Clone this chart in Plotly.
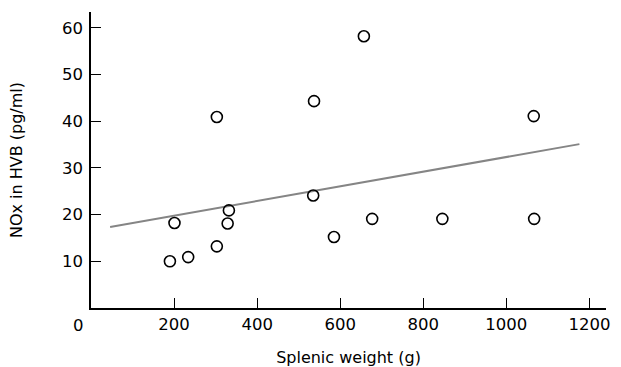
import plotly.graph_objects as go

# Data
splenic_weight = [190, 201, 234, 303, 329, 332, 535, 303, 537, 657, 1066, 585, 677, 846, 1067]
nox_hvb = [10.0, 18.2, 10.9, 13.2, 18.1, 20.9, 24.1, 40.9, 44.3, 58.2, 41.1, 15.2, 19.1, 19.1, 19.1]

# Regression line end points
fit_x = [46, 1176]
fit_y = [17.35, 35.1]

x_ticks = [200, 400, 600, 800, 1000, 1200]
y_ticks = [10, 20, 30, 40, 50, 60]

FONT = "DejaVu Sans"

fig = go.Figure()
fig.add_trace(go.Scatter(
    x=fit_x, y=fit_y, mode="lines",
    line=dict(color="#858585", width=2),
    hoverinfo="skip", showlegend=False,
))
fig.add_trace(go.Scatter(
    x=splenic_weight, y=nox_hvb, mode="markers",
    marker=dict(symbol="circle-open", size=11, color="black", line=dict(width=1.6, color="black")),
    showlegend=False,
))

fig.update_layout(
    width=621, height=367,
    margin=dict(l=91, r=15, t=12, b=59),
    paper_bgcolor="white", plot_bgcolor="white",
    font=dict(family=FONT, size=16, color="black"),
    xaxis=dict(
        range=[0, 1240], tickvals=x_ticks, ticktext=[str(v) for v in x_ticks],
        ticks="inside", ticklen=10, tickwidth=1.3, tickcolor="black",
        showline=True, linecolor="black", linewidth=1.5,
        showgrid=False, zeroline=False, automargin=False,
        tickfont=dict(family=FONT, size=16.5),
        title=dict(text="Splenic weight (g)", font=dict(family=FONT, size=16), standoff=20),
    ),
    yaxis=dict(
        range=[0, 63.4], tickvals=y_ticks, ticktext=[str(v) for v in y_ticks],
        ticks="inside", ticklen=10, tickwidth=1.3, tickcolor="black",
        showline=True, linecolor="black", linewidth=1.5,
        showgrid=False, zeroline=False, automargin=False,
        ticklabelstandoff=3,
        tickfont=dict(family=FONT, size=16.5),
        title=dict(text="NOx in HVB (pg/ml)", font=dict(family=FONT, size=16), standoff=35),
    ),
)

fig.add_annotation(
    x=0, y=0, xref="x", yref="paper", text="0", showarrow=False,
    xanchor="center", yanchor="top", xshift=-13, yshift=-6,
    font=dict(family=FONT, size=16.5, color="black"),
)

fig.write_html(
    "out.html",
    config={"displayModeBar": False},
    post_script="document.body.style.margin='0';document.body.style.padding='0';",
)
